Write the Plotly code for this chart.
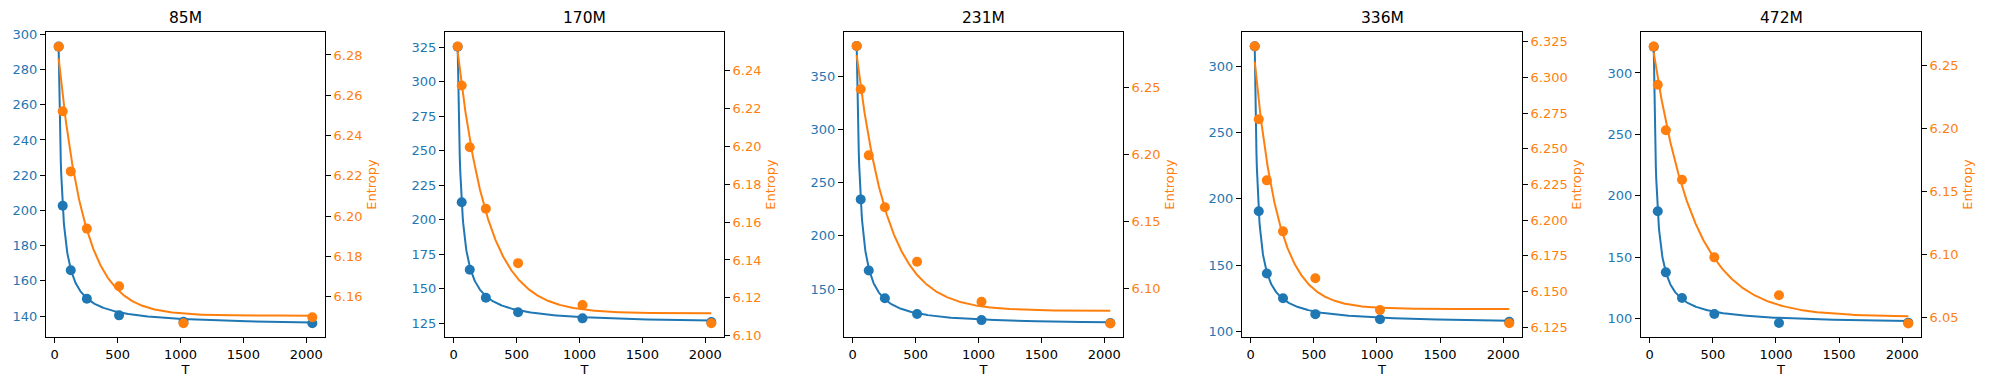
import numpy as np
import plotly.graph_objects as go

# ---- data ----
titles = ["85M", "170M", "231M", "336M", "472M"]
T = [32, 64, 128, 256, 512, 1024, 2048]

blue_1 = [293.0, 202.6, 166.0, 149.8, 140.4, 136.8, 135.9]
blue_2 = [325.4, 212.7, 163.8, 143.6, 133.0, 128.6, 126.0]
blue_3 = [378.5, 234.3, 167.5, 141.3, 126.5, 120.8, 118.0]
blue_4 = [314.8, 190.6, 143.8, 125.2, 113.2, 109.3, 107.5]
blue_5 = [321.4, 187.3, 137.5, 116.6, 103.5, 96.2, 96.5]

entropy_1 = [6.2841, 6.2520, 6.2222, 6.1938, 6.1652, 6.1468, 6.1498]
entropy_2 = [6.2527, 6.2321, 6.1995, 6.1671, 6.1383, 6.1162, 6.1066]
entropy_3 = [6.2808, 6.2485, 6.1993, 6.1606, 6.1200, 6.0902, 6.0741]
entropy_4 = [6.3218, 6.2707, 6.2279, 6.1922, 6.1593, 6.1371, 6.1278]
entropy_5 = [6.2648, 6.2346, 6.1984, 6.1592, 6.0976, 6.0675, 6.0452]

# fitted curve parameters: blue  y = a + b * (T - d) ** (-c)
blue_fit_a = [134.5, 124.5, 116.5, 106.0, 95.5]
blue_fit_b = [3866.0, 5040.0, 14250.0, 4556.0, 4961.0]
blue_fit_c = [1.0, 1.0, 1.153, 1.0, 1.0]
blue_fit_d = [7.3, 6.8, 0.0, 10.15, 10.0]
# entropy  y = a + b * exp(-T / c)
ent_fit_a = [6.1506, 6.1118, 6.0835, 6.1378, 6.0505]
ent_fit_b = [0.1494, 0.1582, 0.2171, 0.2058, 0.2317]
ent_fit_c = [204.0, 236.5, 244.8, 185.6, 317.9]

# axis ticks
left_ticks = [
    [140, 160, 180, 200, 220, 240, 260, 280, 300],
    [125, 150, 175, 200, 225, 250, 275, 300, 325],
    [150, 200, 250, 300, 350],
    [100, 150, 200, 250, 300],
    [100, 150, 200, 250, 300],
]
right_ticks = [
    [6.16, 6.18, 6.20, 6.22, 6.24, 6.26, 6.28],
    [6.10, 6.12, 6.14, 6.16, 6.18, 6.20, 6.22, 6.24],
    [6.10, 6.15, 6.20, 6.25],
    [6.125, 6.150, 6.175, 6.200, 6.225, 6.250, 6.275, 6.300, 6.325],
    [6.05, 6.10, 6.15, 6.20, 6.25],
]
right_fmt = [".2f", ".2f", ".2f", ".3f", ".2f"]
left_range = [[128.1, 301.3], [115.1, 336.1], [104.9, 391.7], [96.0, 325.6], [84.8, 333.4]]
right_range = [[6.140, 6.2914], [6.0993, 6.2604], [6.064, 6.2912], [6.1182, 6.3318], [6.0344, 6.2764]]
x_ticks = [0, 500, 1000, 1500, 2000]

blues = [blue_1, blue_2, blue_3, blue_4, blue_5]
ents = [entropy_1, entropy_2, entropy_3, entropy_4, entropy_5]

BLUE = "#1f77b4"
ORANGE = "#ff7f0e"
FONT = "DejaVu Sans"
FS = 13
W, H = 1989, 390

x_dom = [(46, 325), (445, 724), (844, 1123), (1242, 1522), (1641, 1921)]
y_dom = [1 - 337 / H, 1 - 32 / H]

fig = go.Figure()
Tc = np.linspace(min(T), max(T), 600)

layout = dict(
    width=W, height=H,
    margin=dict(l=0, r=0, t=0, b=0),
    paper_bgcolor="white", plot_bgcolor="white",
    showlegend=False,
    font=dict(family=FONT, size=FS, color="black"),
)
annotations = []

for i in range(5):
    xa = f"x{i+1}" if i else "x"
    yl = f"y{2*i+1}" if i else "y"
    yr = f"y{2*i+2}"
    xkey = f"xaxis{i+1}" if i else "xaxis"
    ylkey = f"yaxis{2*i+1}" if i else "yaxis"
    yrkey = f"yaxis{2*i+2}"

    bc = blue_fit_a[i] + blue_fit_b[i] * (Tc - blue_fit_d[i]) ** (-blue_fit_c[i])
    ec = ent_fit_a[i] + ent_fit_b[i] * np.exp(-Tc / ent_fit_c[i])

    fig.add_trace(go.Scatter(x=T, y=blues[i], mode="markers", xaxis=xa, yaxis=yl,
                             marker=dict(color=BLUE, size=10, line=dict(width=0))))
    fig.add_trace(go.Scatter(x=Tc, y=bc, mode="lines", xaxis=xa, yaxis=yl,
                             line=dict(color=BLUE, width=2)))
    fig.add_trace(go.Scatter(x=T, y=ents[i], mode="markers", xaxis=xa, yaxis=yr,
                             marker=dict(color=ORANGE, size=10, line=dict(width=0))))
    fig.add_trace(go.Scatter(x=Tc, y=ec, mode="lines", xaxis=xa, yaxis=yr,
                             line=dict(color=ORANGE, width=2)))

    x0, x1 = x_dom[i]
    layout[xkey] = dict(
        domain=[x0 / W, x1 / W], anchor=yl, range=[-68.8, 2148.8],
        tickvals=x_ticks, ticktext=[str(v) for v in x_ticks],
        ticks="outside", ticklen=5, tickcolor="black", tickwidth=1,
        showline=True, linecolor="black", linewidth=1, mirror=True,
        showgrid=False, zeroline=False, automargin=False,
        tickfont=dict(family=FONT, size=FS, color="black"),
        title=dict(text="T", font=dict(family=FONT, size=FS, color="black"), standoff=4),
    )
    layout[ylkey] = dict(
        domain=y_dom, anchor=xa, range=left_range[i], side="left",
        tickvals=left_ticks[i], ticktext=[str(v) for v in left_ticks[i]],
        ticks="outside", ticklen=5, tickcolor="black", tickwidth=1,
        showline=True, linecolor="black", linewidth=1,
        showgrid=False, zeroline=False, automargin=False,
        tickfont=dict(family=FONT, size=FS, color=BLUE),
    )
    layout[yrkey] = dict(
        overlaying=yl, anchor=xa, range=right_range[i], side="right",
        tickvals=right_ticks[i],
        ticktext=[format(v, right_fmt[i]) for v in right_ticks[i]],
        ticks="outside", ticklen=5, tickcolor="black", tickwidth=1,
        showline=True, linecolor="black", linewidth=1,
        showgrid=False, zeroline=False, automargin=False,
        tickfont=dict(family=FONT, size=FS, color=ORANGE),
        title=dict(text="Entropy", font=dict(family=FONT, size=FS, color=ORANGE), standoff=5),
    )
    annotations.append(dict(
        text=titles[i], xref="paper", yref="paper",
        x=(x0 + x1) / 2 / W, y=y_dom[1], xanchor="center", yanchor="bottom",
        yshift=3, showarrow=False, font=dict(family=FONT, size=15.5, color="black"),
    ))

layout["annotations"] = annotations
fig.update_layout(**layout)
fig.write_html("out.html", config={"displayModeBar": False},
               post_script="document.body.style.margin='0';")
